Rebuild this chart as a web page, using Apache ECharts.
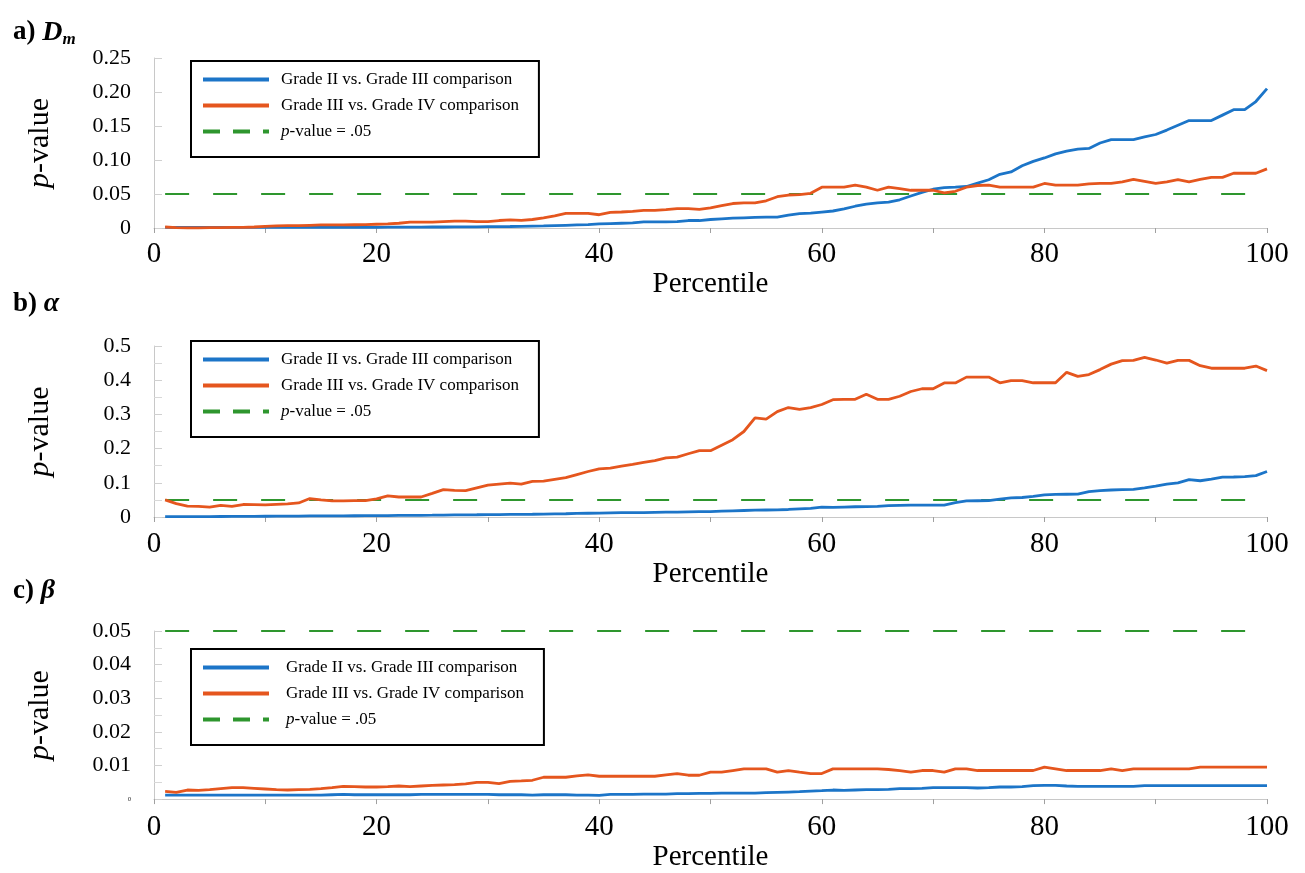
<!DOCTYPE html>
<html><head><meta charset="utf-8">
<script src="https://cdn.jsdelivr.net/npm/echarts@6/dist/echarts.min.js"></script>
<style>html,body{margin:0;padding:0;background:#fff}#c{width:1305px;height:873px}</style>
</head><body><div id="c"></div>
<script>
// ---------- data ----------
const percentiles = [1,2,3,4,5,6,7,8,9,10,11,12,13,14,15,16,17,18,19,20,21,22,23,24,25,26,27,28,29,30,31,32,33,34,35,36,37,38,39,40,41,42,43,44,45,46,47,48,49,50,51,52,53,54,55,56,57,58,59,60,61,62,63,64,65,66,67,68,69,70,71,72,73,74,75,76,77,78,79,80,81,82,83,84,85,86,87,88,89,90,91,92,93,94,95,96,97,98,99,100];

const seriesNames = ['Grade II vs. Grade III comparison', 'Grade III vs. Grade IV comparison', 'p-value = .05'];
const thresholdValue = 0.05;

// a) Dm
const dmGrade2v3 = [0.001,0.001,0.001,0.001,0.001,0.001,0.001,0.001,0.001,0.001,
0.001,0.001,0.001,0.001,0.001,0.001,0.001,0.001,0.001,0.001,
0.0012,0.0012,0.0013,0.0014,0.0015,0.0015,0.0016,0.0017,0.0018,0.002,
0.002,0.0022,0.0025,0.0028,0.003,0.0035,0.004,0.0045,0.005,0.006,
0.0065,0.007,0.0075,0.009,0.009,0.009,0.0095,0.011,0.011,0.0125,
0.0135,0.0145,0.015,0.0155,0.016,0.016,0.019,0.021,0.022,0.0235,
0.025,0.028,0.032,0.035,0.037,0.038,0.0415,0.047,0.0525,0.057,
0.0595,0.06,0.061,0.066,0.071,0.079,0.0825,0.0915,0.098,0.103,
0.109,0.113,0.116,0.117,0.125,0.13,0.13,0.13,0.134,0.1375,
0.144,0.151,0.158,0.158,0.158,0.166,0.174,0.174,0.186,0.205];
const dmGrade3v4 = [0.0015,0.0005,0,0,0.0005,0.0005,0.001,0.001,0.0015,0.0025,
0.003,0.0035,0.0035,0.004,0.0045,0.0045,0.0045,0.0048,0.005,0.0055,
0.006,0.007,0.0085,0.0085,0.0085,0.0095,0.01,0.01,0.0095,0.0095,
0.011,0.012,0.0112,0.0125,0.015,0.018,0.0215,0.0215,0.0215,0.0195,
0.023,0.0235,0.0245,0.026,0.026,0.027,0.0285,0.0285,0.0275,0.0295,
0.033,0.036,0.037,0.037,0.04,0.046,0.0485,0.049,0.051,0.06,
0.06,0.06,0.063,0.06,0.0555,0.06,0.058,0.0555,0.0555,0.0555,
0.0515,0.054,0.06,0.0625,0.063,0.06,0.06,0.06,0.06,0.0655,
0.063,0.063,0.063,0.065,0.0655,0.0655,0.068,0.0715,0.0685,0.0655,
0.068,0.071,0.068,0.0715,0.0745,0.0745,0.0805,0.0805,0.0805,0.087];

// b) alpha
const alphaGrade2v3 = [0.001,0.001,0.001,0.0012,0.0013,0.0015,0.0017,0.002,0.002,0.0022,
0.0024,0.0026,0.0028,0.003,0.003,0.0032,0.0034,0.0036,0.0038,0.004,
0.0042,0.0045,0.0048,0.005,0.0052,0.0055,0.006,0.0063,0.0066,0.007,
0.0072,0.0075,0.0078,0.008,0.0085,0.009,0.0095,0.0105,0.011,0.0115,
0.012,0.0125,0.013,0.013,0.0135,0.014,0.0145,0.015,0.0155,0.016,
0.017,0.018,0.019,0.02,0.0205,0.021,0.022,0.0235,0.025,0.029,
0.028,0.029,0.03,0.0305,0.031,0.033,0.034,0.035,0.035,0.035,
0.035,0.042,0.047,0.0475,0.048,0.052,0.056,0.057,0.06,0.0645,
0.066,0.0665,0.067,0.074,0.077,0.079,0.08,0.081,0.085,0.09,
0.096,0.1,0.109,0.106,0.111,0.1165,0.117,0.118,0.121,0.133];
const alphaGrade3v4 = [0.05,0.039,0.032,0.031,0.029,0.034,0.031,0.0365,0.036,0.0355,
0.037,0.0385,0.041,0.054,0.05,0.047,0.047,0.048,0.048,0.053,
0.0615,0.0585,0.0585,0.0585,0.069,0.08,0.078,0.077,0.085,0.093,
0.096,0.099,0.096,0.104,0.105,0.11,0.115,0.124,0.133,0.141,
0.143,0.149,0.154,0.16,0.165,0.173,0.175,0.185,0.194,0.194,
0.21,0.226,0.25,0.29,0.286,0.308,0.32,0.315,0.32,0.329,
0.343,0.344,0.344,0.359,0.344,0.344,0.353,0.367,0.375,0.375,
0.392,0.392,0.409,0.409,0.409,0.3925,0.399,0.399,0.3925,0.3925,
0.3925,0.423,0.411,0.4165,0.431,0.447,0.457,0.458,0.4665,0.459,
0.45,0.458,0.458,0.4425,0.435,0.435,0.435,0.435,0.4415,0.428];

// c) beta
const betaGrade2v3 = [0.0012,0.0012,0.0012,0.0012,0.0012,0.0012,0.0012,0.0012,0.0012,0.0012,
0.0012,0.0012,0.0012,0.0012,0.0012,0.0013,0.0014,0.0013,0.0013,0.0013,
0.0013,0.0013,0.0013,0.0014,0.0014,0.0014,0.0014,0.0014,0.0014,0.0014,
0.0013,0.0013,0.0013,0.0012,0.0013,0.0013,0.0013,0.0012,0.0012,0.0011,
0.0014,0.0014,0.0014,0.0015,0.0015,0.0015,0.0016,0.0016,0.0017,0.0017,
0.0018,0.0018,0.0018,0.0018,0.0019,0.002,0.0021,0.0022,0.0024,0.0025,
0.0027,0.0026,0.0027,0.0028,0.0028,0.0029,0.0031,0.0031,0.0032,0.0034,
0.0034,0.0034,0.0034,0.0033,0.0034,0.0036,0.0036,0.0037,0.004,0.0041,
0.0041,0.0039,0.0038,0.0038,0.0038,0.0038,0.0038,0.0038,0.004,0.004,
0.004,0.004,0.004,0.004,0.004,0.004,0.004,0.004,0.004,0.004];
const betaGrade3v4 = [0.0023,0.002,0.0027,0.0026,0.0028,0.0031,0.0034,0.0034,0.0032,0.003,
0.0028,0.0027,0.0028,0.0029,0.0031,0.0034,0.0038,0.0037,0.0036,0.0036,
0.0037,0.0039,0.0037,0.0039,0.0041,0.0042,0.0043,0.0045,0.005,0.005,
0.0046,0.0053,0.0054,0.0056,0.0065,0.0065,0.0065,0.0069,0.0072,0.0068,
0.0068,0.0068,0.0068,0.0068,0.0068,0.0072,0.0076,0.0071,0.0071,0.008,
0.008,0.0085,0.009,0.009,0.009,0.008,0.0085,0.008,0.0076,0.0076,
0.009,0.009,0.009,0.009,0.009,0.0088,0.0085,0.008,0.0085,0.0085,
0.008,0.009,0.009,0.0085,0.0085,0.0085,0.0085,0.0085,0.0085,0.0095,
0.009,0.0085,0.0085,0.0085,0.0085,0.009,0.0085,0.009,0.009,0.009,
0.009,0.009,0.009,0.0095,0.0095,0.0095,0.0095,0.0095,0.0095,0.0095];

// tick labels
const xTickLabels = ['0','','20','','40','','60','','80','','100'];
const yTicksA = ['0','0.05','0.10','0.15','0.20','0.25'];
const yTicksB = ['0','0.1','0.2','0.3','0.4','0.5'];
const yTicksC = ['{z|0}','0.01','0.02','0.03','0.04','0.05'];
const panelTitles = ['{n|a) }{v|D}{s|m}', '{n|b) }{v|α}', '{n|c) }{v|β}'];

// ---------- chart ----------
const FONT = "'Times New Roman', 'Liberation Serif', serif";
const BLUE = '#1C75C8', ORANGE = '#E5561E', GREEN = '#2E962E';

const panels = [
  {g2: dmGrade2v3, g3: dmGrade3v4, top: 58, height: 170, max: 0.25, interval: 0.05, ticks: yTicksA, minor: false,
   titleTop: 12, legendTop: 61, labMargin: 12, nameGap: 36, textPad: 7},
  {g2: alphaGrade2v3, g3: alphaGrade3v4, top: 346, height: 171, max: 0.5, interval: 0.1, ticks: yTicksB, minor: true,
   titleTop: 285, legendTop: 341, labMargin: 13, nameGap: 38, textPad: 7},
  {g2: betaGrade2v3, g3: betaGrade3v4, top: 631, height: 172, max: 0.05, interval: 0.01, ticks: yTicksC, minor: true,
   titleTop: 572, legendTop: 649, labMargin: 14, nameGap: 40, textPad: 12}
];

const titleRich = {
  n: {fontFamily: FONT, fontWeight: 'bold', fontSize: 27, color: '#000'},
  v: {fontFamily: FONT, fontWeight: 'bold', fontStyle: 'italic', fontSize: 28, color: '#000'},
  s: {fontFamily: FONT, fontWeight: 'bold', fontStyle: 'italic', fontSize: 17, color: '#000', padding: [14, 0, 0, 0]}
};

const hiddenSymbol = {opacity: 0, borderWidth: 0, color: 'rgba(0,0,0,0)', borderColor: 'rgba(0,0,0,0)'};

const option = {
  animation: false,
  backgroundColor: '#fff',
  title: panels.map((p, i) => ({
    text: panelTitles[i], left: 8, top: p.titleTop,
    textStyle: {rich: titleRich, fontFamily: FONT, fontSize: 27, fontWeight: 'bold', color: '#000'}
  })),
  legend: panels.map((p, i) => ({
    orient: 'vertical', left: 191, top: p.legendTop,
    padding: [10, 20, 17, 10],
    borderColor: '#000', borderWidth: 2,
    itemWidth: 66, itemHeight: 16, itemGap: 9,
    data: [
      {name: seriesNames[0], lineStyle: {width: 4}, itemStyle: hiddenSymbol},
      {name: seriesNames[1], lineStyle: {width: 4}, itemStyle: hiddenSymbol},
      {name: seriesNames[2], lineStyle: {width: 4, type: [17, 13]}, itemStyle: hiddenSymbol}
    ],
    formatter: n => n === seriesNames[2] ? '{i|p}-value = .05' : n,
    textStyle: {fontFamily: FONT, fontSize: 17, color: '#000', padding: [0, 0, 0, p.textPad],
      rich: {i: {fontFamily: FONT, fontSize: 17, fontStyle: 'italic', color: '#000'}}}
  })),
  grid: panels.map(p => ({left: 154, width: 1113, top: p.top, height: p.height})),
  xAxis: panels.map((p, i) => ({
    type: 'value', gridIndex: i, min: 0, max: 100, interval: 10,
    axisLine: {show: true, lineStyle: {color: '#c8c8c8', width: 1}},
    axisTick: {show: true, length: 5, lineStyle: {color: '#a0a0a0'}},
    axisLabel: {fontFamily: FONT, fontSize: 29, color: '#000', margin: p.labMargin,
      formatter: v => xTickLabels[Math.round(v / 10)]},
    splitLine: {show: false},
    name: 'Percentile', nameLocation: 'middle', nameGap: p.nameGap,
    nameTextStyle: {fontFamily: FONT, fontSize: 29, color: '#000'}
  })),
  yAxis: panels.map((p, i) => ({
    type: 'value', gridIndex: i, min: 0, max: p.max, interval: p.interval,
    axisLine: {show: true, lineStyle: {color: '#c8c8c8', width: 1}},
    axisTick: {show: true, inside: true, length: 8, lineStyle: {color: '#d0d0d0'}},
    minorTick: {show: p.minor, splitNumber: 2, length: 8, lineStyle: {color: '#d8d8d8'}},
    axisLabel: {fontFamily: FONT, fontSize: 22, color: '#000', margin: 23,
      formatter: v => p.ticks[Math.round(v / p.interval)],
      rich: {z: {fontFamily: FONT, fontSize: 6, color: '#000'}}},
    splitLine: {show: false},
    name: '{i|p}-value', nameLocation: 'middle', nameRotate: 90, nameGap: 99,
    nameTextStyle: {fontFamily: FONT, fontSize: 30, color: '#000',
      rich: {i: {fontFamily: FONT, fontSize: 30, fontStyle: 'italic', color: '#000'}}}
  })),
  series: panels.flatMap((p, i) => [
    {name: seriesNames[0], type: 'line', xAxisIndex: i, yAxisIndex: i, symbol: 'none',
     data: percentiles.map((x, k) => [x, p.g2[k]]), lineStyle: {color: BLUE, width: 2.8}, itemStyle: {color: BLUE}, z: 3},
    {name: seriesNames[1], type: 'line', xAxisIndex: i, yAxisIndex: i, symbol: 'none',
     data: percentiles.map((x, k) => [x, p.g3[k]]), lineStyle: {color: ORANGE, width: 2.8}, itemStyle: {color: ORANGE}, z: 3},
    {name: seriesNames[2], type: 'line', xAxisIndex: i, yAxisIndex: i, symbol: 'none',
     data: [[percentiles[0], thresholdValue], [percentiles[percentiles.length - 1], thresholdValue]],
     lineStyle: {color: GREEN, width: 2, type: [24, 24]}, itemStyle: {color: GREEN}, z: 2}
  ])
};

const chart = echarts.init(document.getElementById('c'), null, {renderer: 'canvas'});
chart.setOption(option);
</script>
</body></html>
